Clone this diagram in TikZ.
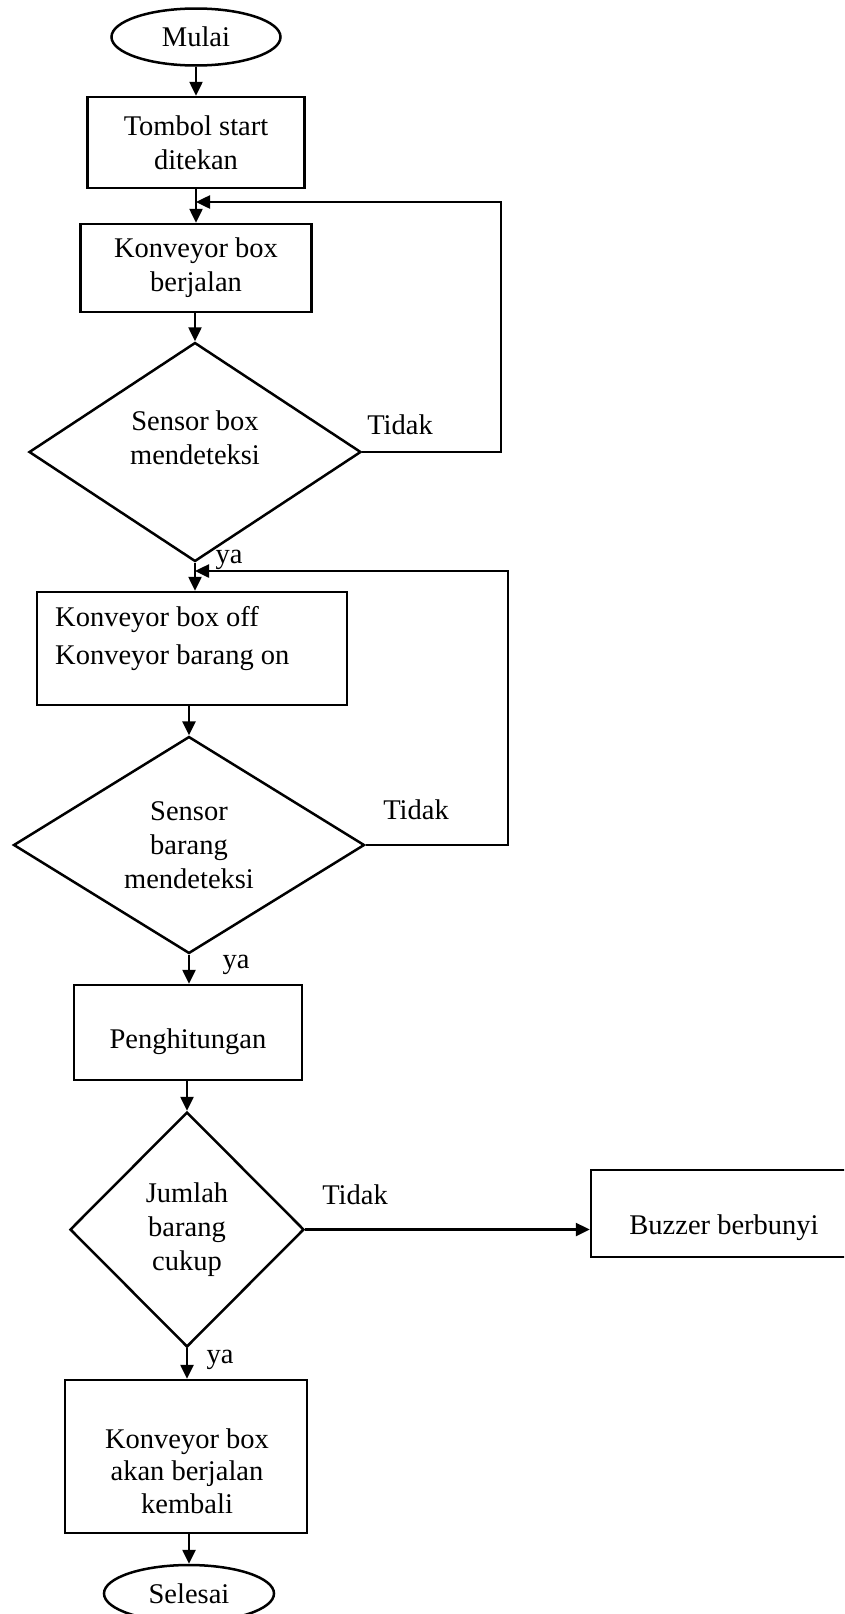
\documentclass[tikz,border=0pt]{standalone}
\usepackage{fontspec}
\setmainfont{Liberation Serif}
\usetikzlibrary{shapes.geometric,arrows.meta}
\tikzset{
	kotak/.style={draw, line width=2.5pt, rectangle, inner sep=0pt, align=center},
	belah/.style={draw, line width=2.5pt, diamond, inner sep=0pt, align=center},
	lonjong/.style={draw, line width=2.5pt, ellipse, inner sep=0pt},
	teks/.style={inner sep=0pt, align=center},
	panah/.style={line width=2.5pt, -{Triangle[length=14pt,width=13pt]}},
}

\begin{document}
\begin{tikzpicture}[x=1pt, y=-1pt, font=\fontsize{28.5}{34}\selectfont]
			%%%%% START %%%%%
			\useasboundingbox (0,0) rectangle (844,1614);
			\clip (0,0) rectangle (844,1614);
			
			\node[lonjong, minimum width=169pt, minimum height=57pt] (mulai) at (196,37) {Mulai};
			\node[kotak, minimum width=217pt, minimum height=91pt] (tombol) at (196,142.5) {Tombol start\\ditekan};
			\node[kotak, minimum width=231pt, minimum height=88pt] (jalan) at (196,268) {Konveyor box\\berjalan};
			
			\node[belah, minimum width=332pt, minimum height=219pt] (sensbox) at (195,452) {};
			\node[teks] (sensbox-t) at (195,438) {Sensor box\\mendeteksi};
			
			\node[kotak, minimum width=310pt, minimum height=113pt] (onbox) at (192,648.5) {};
			\node[teks, anchor=west, align=left] (onbox-t) at (55,639) {Konveyor box off\\[4pt]Konveyor barang on};
			
			\node[belah, minimum width=351pt, minimum height=216pt] (sensbrg) at (189,845) {Sensor\\barang\\mendeteksi};
			
			\node[kotak, minimum width=228pt, minimum height=95pt] (hitung) at (188,1032.5) {};
			\node[teks] (hitung-t) at (188,1042) {Penghitungan};
			
			\node[belah, minimum width=234pt, minimum height=235pt] (jumlah) at (187,1229.5) {Jumlah\\barang\\cukup};
			
			\node[kotak, minimum width=266pt, minimum height=87pt] (buzz) at (724,1213.5) {};
			\node[teks] (buzz-t) at (724,1228) {Buzzer berbunyi};
			
			\node[kotak, minimum width=242pt, minimum height=153pt] (akan) at (186,1456.5) {};
			\node[teks, font=\fontsize{28.5}{32.5}\selectfont] (akan-t) at (187,1471) {Konveyor box\\akan berjalan\\kembali};
			
			\node[lonjong, minimum width=170pt, minimum height=57pt] (selesai) at (189,1593.5) {Selesai};
			
			% label cabang
			\node[teks] (tidak1) at (400,425) {Tidak};
			\node[teks] (ya1) at (229,560) {ya};
			\node[teks] (tidak2) at (416,810) {Tidak};
			\node[teks] (ya2) at (236,965) {ya};
			\node[teks] (tidak3) at (355,1195) {Tidak};
			\node[teks] (ya3) at (220,1360) {ya};
			
			% titik belok
			\coordinate (kanan1) at (501,202);
			\coordinate (masuk1) at (196,202);
			\coordinate (kanan2) at (508,571);
			\coordinate (masuk2) at (195,571);
			
			\draw[panah] (mulai) -- (tombol);
			\draw[panah] (tombol) -- (jalan);
			\draw[panah] (sensbox.north |- jalan.south) -- (sensbox.north);
			\draw[panah] (sensbox.east) -| (kanan1) -- (masuk1);
			\draw[panah] (sensbox.south) -- (sensbox.south |- onbox.north);
			\draw[panah] (sensbrg.north |- onbox.south) -- (sensbrg.north);
			\draw[panah] (sensbrg.east) -| (kanan2) -- (masuk2);
			\draw[panah] (sensbrg.south) -- (sensbrg.south |- hitung.north);
			\draw[panah] (jumlah.north |- hitung.south) -- (jumlah.north);
			\draw[panah] (jumlah.east) -- (jumlah.east -| buzz.west);
			\draw[panah] (jumlah.south) -- (jumlah.south |- akan.north);
			\draw[panah] (selesai.north |- akan.south) -- (selesai.north);
			
			%%%%% END %%%%%
\end{tikzpicture}
\end{document}
